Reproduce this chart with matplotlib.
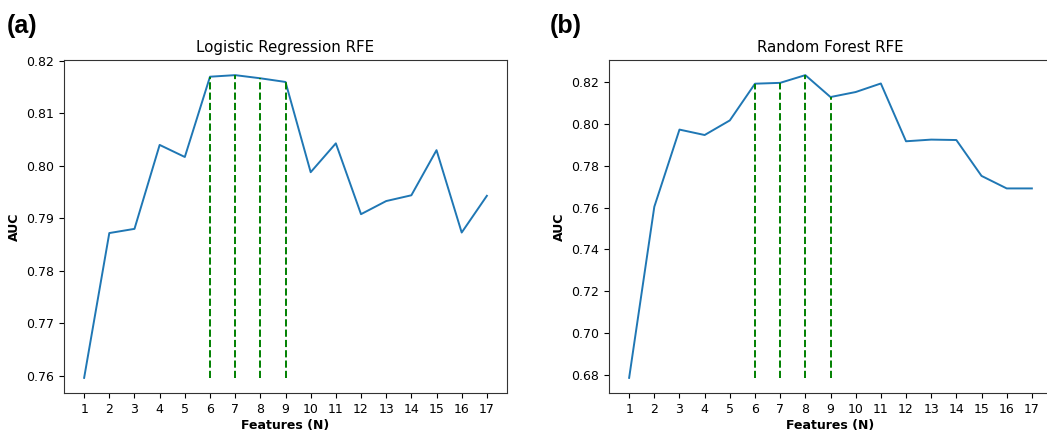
import matplotlib
matplotlib.use("Agg")
import matplotlib.pyplot as plt

features = list(range(1, 18))
lr_auc = [0.7596, 0.7872, 0.7880, 0.8040, 0.8017, 0.8170, 0.8173, 0.8167, 0.8160,
          0.7988, 0.8043, 0.7908, 0.7933, 0.7944, 0.8030, 0.7873, 0.7943]
rf_auc = [0.6784, 0.7604, 0.7974, 0.7948, 0.8018, 0.8194, 0.8198, 0.8235, 0.8130,
          0.8154, 0.8195, 0.7918, 0.7926, 0.7924, 0.7752, 0.7692, 0.7692]
best_n = [6, 7, 8, 9]
titles = ["Logistic Regression RFE", "Random Forest RFE"]
panel_labels = ["(a)", "(b)"]

W, H = 1047, 433
fig = plt.figure(figsize=(W / 100, H / 100), dpi=100)

positions = [
    [64 / W, 40 / H, 443 / W, 333 / H],
    [609 / W, 40 / H, 443 / W, 333 / H],
]
label_x = [7 / W, 550 / W]

for i, (vals, title) in enumerate(zip([lr_auc, rf_auc], titles)):
    ax = fig.add_axes(positions[i])
    ax.plot(features, vals, color="#1f77b4", lw=1.4)
    ymin = min(vals)
    for n in best_n:
        ax.vlines(n, ymin, vals[n - 1], colors="green", linestyles="--", lw=1.4)
    ax.set_xticks(features)
    ax.tick_params(labelsize=9)
    ax.set_title(title, fontsize=10.8)
    ax.set_xlabel("Features (N)", fontsize=9, fontweight="bold", labelpad=2)
    ax.set_ylabel("AUC", fontsize=9, fontweight="bold")
    for sp in ax.spines.values():
        sp.set_color("#333333")
    if i == 0:
        ax.set_yticks([0.76, 0.77, 0.78, 0.79, 0.80, 0.81, 0.82])
        ax.set_yticklabels(["0.76", "0.77", "0.78", "0.79", "0.80", "0.81", "0.82"])
    else:
        ax.set_yticks([0.68, 0.70, 0.72, 0.74, 0.76, 0.78, 0.80, 0.82])
    fig.text(label_x[i], 1 - 26 / H, panel_labels[i], fontsize=18, fontweight="bold",
             family=["Liberation Sans", "DejaVu Sans"], va="center", ha="left")

fig.savefig("out.png", dpi=100)
